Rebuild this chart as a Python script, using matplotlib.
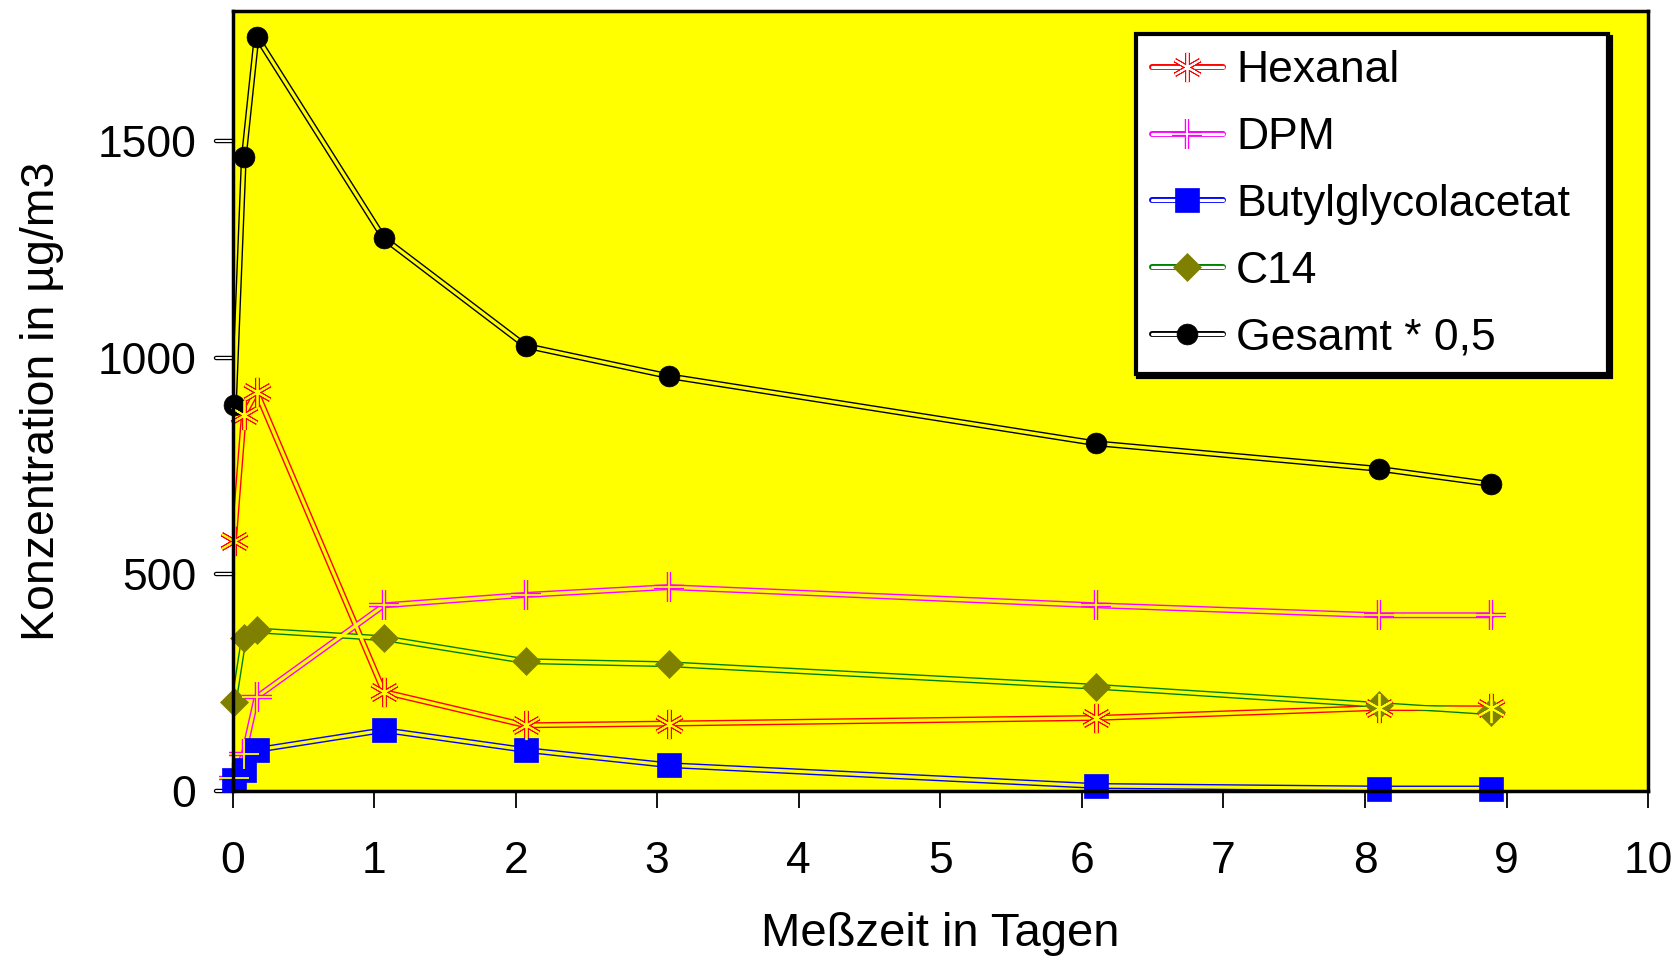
import matplotlib.pyplot as plt
from matplotlib.lines import Line2D
from matplotlib.legend_handler import HandlerTuple

plt.rcParams['font.family'] = ['Liberation Sans', 'DejaVu Sans']

# Messzeitpunkte in Tagen
tage = [0.01, 0.08, 0.17, 1.07, 2.07, 3.08, 6.10, 8.10, 8.89]

hexanal = [577, 867, 921, 228, 151, 155, 168, 191, 190]
dpm = [30, 85, 216, 428, 452, 470, 428, 405, 405]
butylglycolacetat = [25, 48, 94, 140, 94, 59, 11, 5, 5]
c14 = [205, 352, 370, 352, 299, 292, 240, 198, 181]
gesamt_halb = [891, 1463, 1741, 1275, 1027, 957, 802, 743, 708]

namen = ['Hexanal', 'DPM', 'Butylglycolacetat', 'C14', 'Gesamt * 0,5']
y_ticks = [0, 500, 1000, 1500]

GELB = '#FFFF00'
LW_AUSSEN = 4.3
LW_INNEN = 2.3


def serie(ax, x, y, farbe, marker, ms, mfc, hohl):
    """Doppellinie (Farbe aussen, Hintergrund innen) plus Marker."""
    ax.plot(x, y, color=farbe, lw=LW_AUSSEN, zorder=2)
    ax.plot(x, y, color=GELB, lw=LW_INNEN, zorder=2.1)
    if hohl:
        ax.plot(x, y, ls='none', marker=marker, ms=ms, mec=farbe, mew=3.2,
                zorder=3, clip_on=False)
        ax.plot(x, y, ls='none', marker=marker, ms=ms, mec=GELB, mew=1.3,
                zorder=3.1, clip_on=False)
    else:
        ax.plot(x, y, ls='none', marker=marker, ms=ms, mfc=mfc, mec=mfc,
                mew=0.5, zorder=3, clip_on=False)


def handle(farbe, marker, ms, mfc, hohl):
    aussen = Line2D([], [], color=farbe, lw=LW_AUSSEN, solid_capstyle='round')
    innen = Line2D([], [], color='white', lw=LW_INNEN, solid_capstyle='round')
    if hohl:
        m1 = Line2D([], [], ls='none', marker=marker, ms=ms, mec=farbe, mew=3.2)
        m2 = Line2D([], [], ls='none', marker=marker, ms=ms, mec='white', mew=1.3)
        return (aussen, innen, m1, m2)
    m = Line2D([], [], ls='none', marker=marker, ms=ms, mfc=mfc, mec=mfc, mew=0.5)
    return (aussen, innen, m)


fig = plt.figure(figsize=(16.8, 9.56), dpi=100)
ax = fig.add_axes([0.1384, 0.1729, 0.8426, 0.8156])
ax.set_facecolor(GELB)

stile = [
    ('#FF0000', (6, 2, 0), 21, None, True),
    ('#FF00FF', '+', 21, None, True),
    ('#0000FF', 's', 17, '#0000FF', False),
    ('#008000', 'D', 14, '#808000', False),
    ('#000000', 'o', 15, '#000000', False),
]
reihen = [hexanal, dpm, butylglycolacetat, c14, gesamt_halb]

handles = []
for werte, (farbe, marker, ms, mfc, hohl) in zip(reihen, stile):
    serie(ax, tage, werte, farbe, marker, ms, mfc, hohl)
    handles.append(handle(farbe, marker, ms, mfc, hohl))

ax.set_xlim(0, 10)
ax.set_ylim(0, 1800)
ax.set_xticks(range(0, 11))
ax.set_yticks(y_ticks)

for s in ax.spines.values():
    s.set_linewidth(2.5)
    s.set_zorder(5)

ax.tick_params(axis='x', direction='out', length=12, width=1.3, pad=24,
               labelsize=32)
ax.tick_params(axis='y', length=0, pad=26, labelsize=32)

# hohle Tickstriche an der y-Achse
ytrans = ax.get_yaxis_transform()
for t in y_ticks:
    ax.plot([-0.012, 0], [t, t], transform=ytrans, color='black', lw=3.2,
            solid_capstyle='round', clip_on=False, zorder=1)
    ax.plot([-0.012, 0], [t, t], transform=ytrans, color='white', lw=1.4,
            solid_capstyle='round', clip_on=False, zorder=1.1)

ax.set_xlabel('Meßzeit in Tagen', fontsize=34, labelpad=22)
ax.set_ylabel('Konzentration in µg/m3', fontsize=33.5, labelpad=24)

leg = ax.legend(handles, namen, loc='upper left', mode='expand',
                bbox_to_anchor=(0.638, 0.5, 0.334, 0.4700), borderaxespad=0,
                fontsize=32, handlelength=1.6, handletextpad=0.3,
                labelspacing=0.58, borderpad=0.36, fancybox=False,
                framealpha=1, edgecolor='black',
                shadow={'color': 'black', 'alpha': 1},
                handler_map={tuple: HandlerTuple(ndivide=1)})
leg.get_frame().set_linewidth(3)
leg.set_zorder(10)

plt.savefig('out.png', dpi=100)
